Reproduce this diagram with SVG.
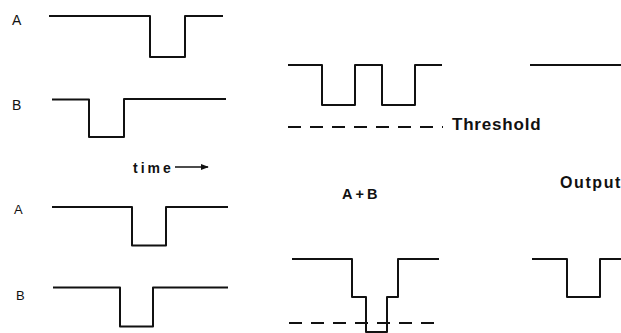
<svg xmlns="http://www.w3.org/2000/svg" width="621" height="333" viewBox="0 0 621 333">
<style>
.w{fill:none;stroke:#111;stroke-width:2;stroke-linejoin:round;stroke-linecap:butt}
.d{fill:none;stroke:#111;stroke-width:2;stroke-dasharray:13 9}
.lbl{font-family:"Liberation Sans",Arial,sans-serif;fill:#111}
.b{font-family:"Liberation Sans",Arial,sans-serif;font-weight:bold;fill:#111}
</style>
<defs>
<marker id="ah" viewBox="0 0 10 10" refX="9" refY="5" markerWidth="5" markerHeight="5" orient="auto" markerUnits="strokeWidth">
<path d="M0,1 L10,5 L0,9 z" fill="#111"/>
</marker>
</defs>
<rect width="621" height="333" fill="#fff"/>
<g id="sigA1">
<text class="lbl" x="12" y="25" font-size="14">A</text>
<path class="w" d="M49,16 H150 V57 H185 V16 H223"/>
</g>
<g id="sigB1">
<text class="lbl" x="12" y="110" font-size="14">B</text>
<path class="w" d="M52,99.5 H89 V137 H124 V99 H226"/>
</g>
<g id="timeLabel">
<text class="b" x="133" y="173" font-size="14" letter-spacing="3">time</text>
</g>
<g id="sigA2">
<text class="lbl" x="14" y="214" font-size="13">A</text>
<path class="w" d="M52,207 H132 V245.5 H166 V207 H228"/>
</g>
<g id="sigB2">
<text class="lbl" x="16" y="300" font-size="13">B</text>
<path class="w" d="M53,287.5 H120 V326.5 H153 V287.5 H228"/>
</g>
<g id="sum1">
<path class="w" d="M288,65 H322 V105 H355 V65 H382 V105 H415 V65 H442"/>
<path class="d" d="M288,127 H443"/>
<text class="b" x="452" y="129.5" font-size="17" letter-spacing="0.8">Threshold</text>
</g>
<g id="sumLabel">
<text class="b" x="342" y="198.5" font-size="14.5" letter-spacing="3">A+B</text>
</g>
<g id="sum2">
<path class="w" d="M292,259 H352 V297 H366 V332 H387 V297 H398 V259 H439"/>
<path class="d" d="M289,323 H438"/>
</g>
<g id="out1">
<path class="w" d="M530,65 H621"/>
</g>
<g id="outLabel">
<text class="b" x="560" y="188" font-size="16" letter-spacing="1.6">Output</text>
</g>
<g id="out2">
<path class="w" d="M532,259 H567 V297 H600 V259 H621"/>
</g>
<g id="connectors">
<path d="M175,167 H208" fill="none" stroke="#111" stroke-width="1.6" marker-end="url(#ah)"/>
</g>
</svg>
